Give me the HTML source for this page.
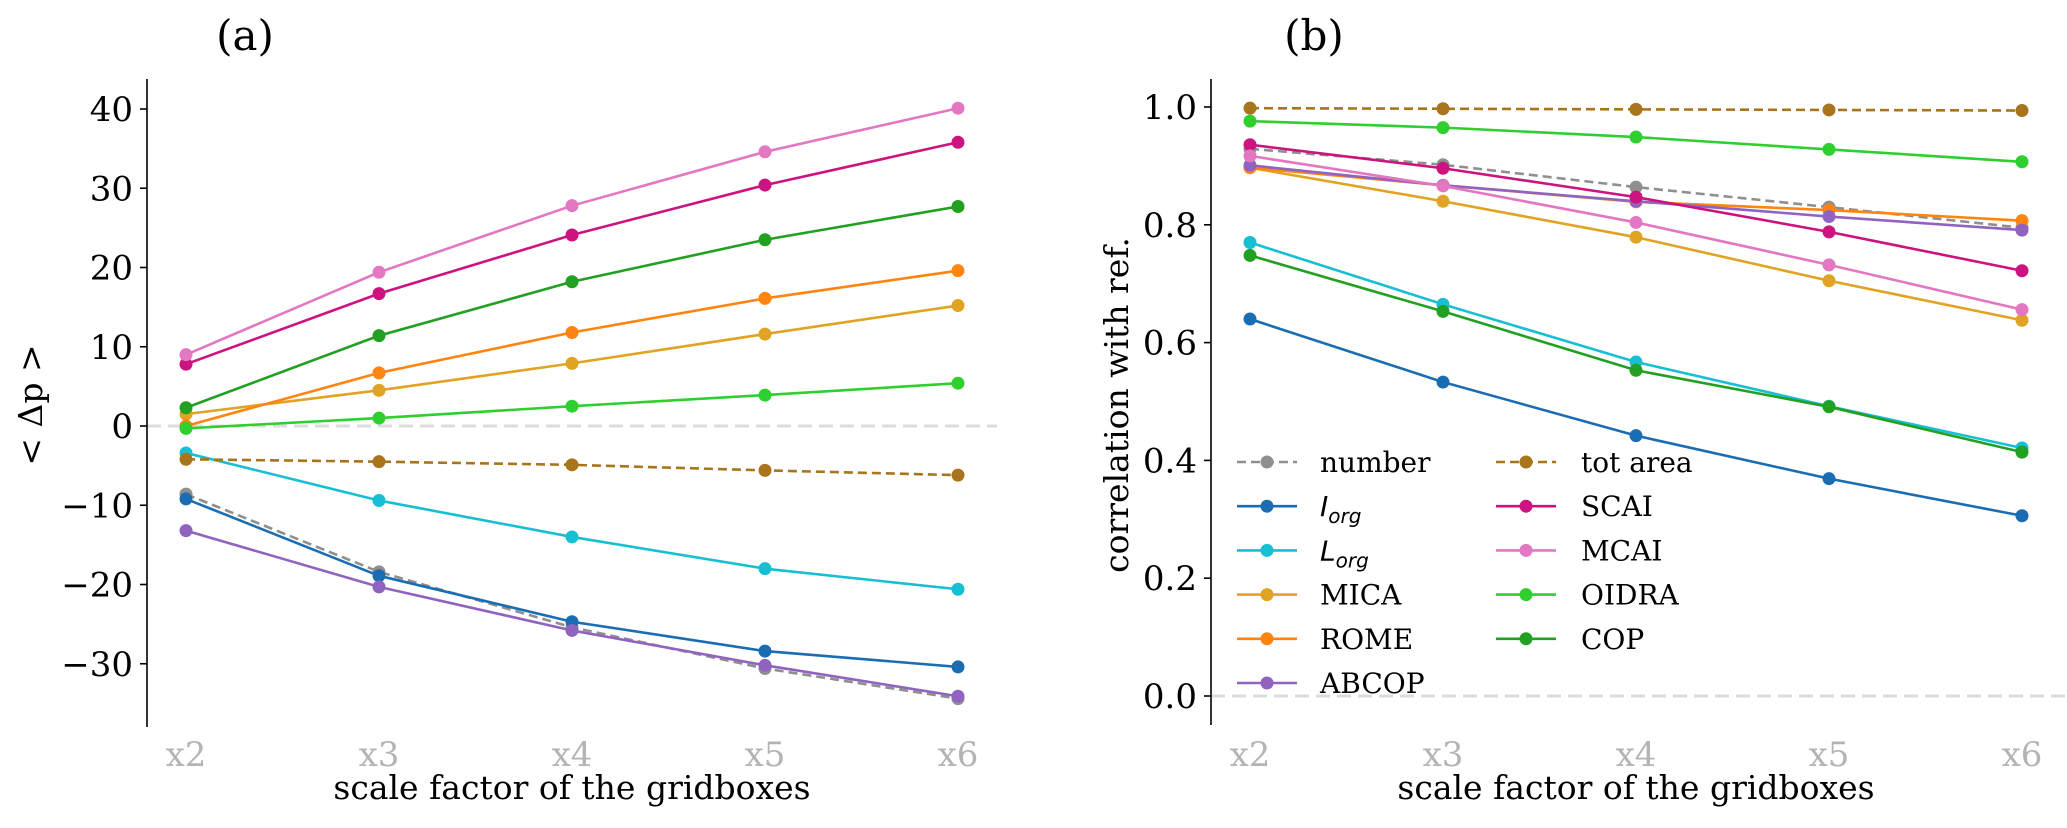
<!DOCTYPE html>
<html><head><meta charset="utf-8">
<style>
html,body{margin:0;padding:0;background:#fff;}
svg{display:block;font-family:"DejaVu Serif","Liberation Serif",serif;}
</style></head>
<body>
<svg id="fig" width="2067" height="828" viewBox="0 0 2067 828" xmlns="http://www.w3.org/2000/svg"></svg>
<script>
const categories = ["x2","x3","x4","x5","x6"];
const seriesNames = ["number","Iorg","Lorg","MICA","ROME","ABCOP","tot area","SCAI","MCAI","OIDRA","COP"];
const seriesColors = ["#8f8f8f","#1a6db3","#17bfd2","#e1a323","#ff8410","#9163c1","#a8741c","#cc137f","#e377c2","#2fcf2f","#22a022"];
const seriesDashed = [true,false,false,false,false,false,true,false,false,false,false];
// panel (a) values: < Δp >
const aNumber = [-8.6,-18.4,-25.4,-30.6,-34.4];
const aIorg = [-9.2,-18.9,-24.7,-28.4,-30.4];
const aLorg = [-3.4,-9.4,-14.0,-18.0,-20.6];
const aMICA = [1.5,4.5,7.9,11.6,15.2];
const aROME = [0.0,6.7,11.8,16.1,19.6];
const aABCOP = [-13.2,-20.3,-25.8,-30.2,-34.1];
const aTotArea = [-4.2,-4.5,-4.9,-5.6,-6.2];
const aSCAI = [7.8,16.7,24.1,30.4,35.8];
const aMCAI = [9.0,19.4,27.8,34.6,40.1];
const aOIDRA = [-0.3,1.0,2.5,3.9,5.4];
const aCOP = [2.3,11.4,18.2,23.5,27.7];
// panel (b) values: correlation with ref.
const bNumber = [0.929,0.902,0.864,0.830,0.795];
const bIorg = [0.640,0.533,0.442,0.369,0.306];
const bLorg = [0.770,0.665,0.567,0.492,0.421];
const bMICA = [0.897,0.840,0.779,0.705,0.638];
const bROME = [0.897,0.867,0.839,0.825,0.807];
const bABCOP = [0.901,0.867,0.840,0.814,0.791];
const bTotArea = [0.998,0.997,0.996,0.995,0.994];
const bSCAI = [0.936,0.896,0.847,0.788,0.722];
const bMCAI = [0.917,0.866,0.804,0.732,0.656];
const bOIDRA = [0.976,0.965,0.949,0.928,0.907];
const bCOP = [0.748,0.653,0.553,0.491,0.414];
const aTicks = [-30,-20,-10,0,10,20,30,40];
const aTickLabels = ["\u221230","\u221220","\u221210","0","10","20","30","40"];
const bTicks = [0,0.2,0.4,0.6,0.8,1.0];
const bTickLabels = ["0.0","0.2","0.4","0.6","0.8","1.0"];

const NS="http://www.w3.org/2000/svg";
const svg=document.getElementById('fig');
function mk(tag,attrs,parent){const e=document.createElementNS(NS,tag);for(const k in attrs)e.setAttribute(k,attrs[k]);(parent||svg).appendChild(e);return e;}

function panel(cfg){
  const g=mk('g',{});
  
  
  const xs=i=>cfg.x0+(cfg.x1-cfg.x0)*i/(categories.length-1);
  const ys=v=>cfg.yA+(v-cfg.vA)*(cfg.yB-cfg.yA)/(cfg.vB-cfg.vA);
  const z=mk('line',{x1:cfg.spineX,x2:cfg.zeroEnd,y1:ys(0),y2:ys(0),stroke:'#dcdcdc','stroke-width':3,'stroke-dasharray':'14,7'},g);
  
  
  const sp=mk('line',{x1:cfg.spineX,x2:cfg.spineX,y1:79,y2:cfg.spineBottom,stroke:'#000','stroke-width':1.6},g);
  
  
  cfg.ticks.forEach((t,i)=>{
    const tl=mk('line',{x1:cfg.spineX-7,x2:cfg.spineX,y1:ys(t),y2:ys(t),stroke:'#000','stroke-width':1.6},g);
    
    
    const tx=mk('text',{x:cfg.spineX-14,y:ys(t)+12,'text-anchor':'end','font-size':34,fill:'#000'},g);
    tx.textContent=cfg.tickLabels[i];
    
    
  });
  categories.forEach((c,i)=>{
    const tx=mk('text',{x:xs(i),y:766,'text-anchor':'middle','font-size':34,fill:'#b4b4b4'},g);
    tx.textContent=c;
    
    
  });
  const xl=mk('text',{x:(cfg.x0+cfg.x1)/2,y:799,'text-anchor':'middle','font-size':33,fill:'#000'},g);
  xl.textContent='scale factor of the gridboxes';
  
  
  const yl=mk('text',{x:0,y:0,'text-anchor':'middle','font-size':33,fill:'#000',transform:`translate(${cfg.ylx},${cfg.yly}) rotate(-90)`},g);
  yl.textContent=cfg.ylabel;
  
  
  const tt=mk('text',{x:cfg.titleX,y:50,'text-anchor':'middle','font-size':42,fill:'#000'},g);
  tt.textContent=cfg.title;
  
  
  cfg.data.forEach((vals,si)=>{
    const sg=mk('g',{},g);
    
    
    const pts=vals.map((v,i)=>xs(i)+','+ys(v)).join(' ');
    const pl=mk('polyline',{points:pts,fill:'none',stroke:seriesColors[si],'stroke-width':2.6},sg);
    if(seriesDashed[si]) pl.setAttribute('stroke-dasharray','9,5');
    
    
    vals.forEach((v,i)=>{
      const c=mk('circle',{cx:xs(i),cy:ys(v),r:6.5,fill:seriesColors[si]},sg);
      
      
    });
  });
  return g;
}

panel({name:'panel-a',x0:186,x1:958,spineX:147,spineBottom:727,zeroEnd:997,yA:109,vA:40,yB:426,vB:0,
  ticks:aTicks,tickLabels:aTickLabels,ylabel:'< \u0394p >',ylx:42,yly:405,title:'(a)',titleX:245,
  data:[aNumber,aIorg,aLorg,aMICA,aROME,aABCOP,aTotArea,aSCAI,aMCAI,aOIDRA,aCOP]});
panel({name:'panel-b',x0:1250,x1:2022,spineX:1211,spineBottom:725,zeroEnd:2067,yA:107,vA:1.0,yB:696,vB:0,
  ticks:bTicks,tickLabels:bTickLabels,ylabel:'correlation with ref.',ylx:1128,yly:405,title:'(b)',titleX:1314,
  data:[bNumber,bIorg,bLorg,bMICA,bROME,bABCOP,bTotArea,bSCAI,bMCAI,bOIDRA,bCOP]});

const leg=mk('g',{});


const cols=[[0,1,2,3,4,5],[6,7,8,9,10]];
const colX=[1237,1496], textX=[1320,1581];
cols.forEach((col,ci)=>{
  col.forEach((si,ri)=>{
    const y=462+44.2*ri;
    const e=mk('g',{},leg);
    
    
    const l=mk('line',{x1:colX[ci],x2:colX[ci]+60,y1:y,y2:y,stroke:seriesColors[si],'stroke-width':2.6},e);
    if(seriesDashed[si]) l.setAttribute('stroke-dasharray','9,5');
    mk('circle',{cx:colX[ci]+30,cy:y,r:6.5,fill:seriesColors[si]},e);
    const t=mk('text',{x:textX[ci],y:y+10,'font-size':28,fill:'#000'},e);
    const nm=seriesNames[si];
    if(nm==='Iorg'||nm==='Lorg'){
      t.setAttribute('font-family','"DejaVu Sans","Liberation Sans",sans-serif');
      t.setAttribute('font-style','italic');
      const a=mk('tspan',{},t);a.textContent=nm[0];
      const b=mk('tspan',{'font-size':20,dy:7},t);b.textContent='org';
    } else t.textContent=nm;
  });
});
</script>
</body></html>
